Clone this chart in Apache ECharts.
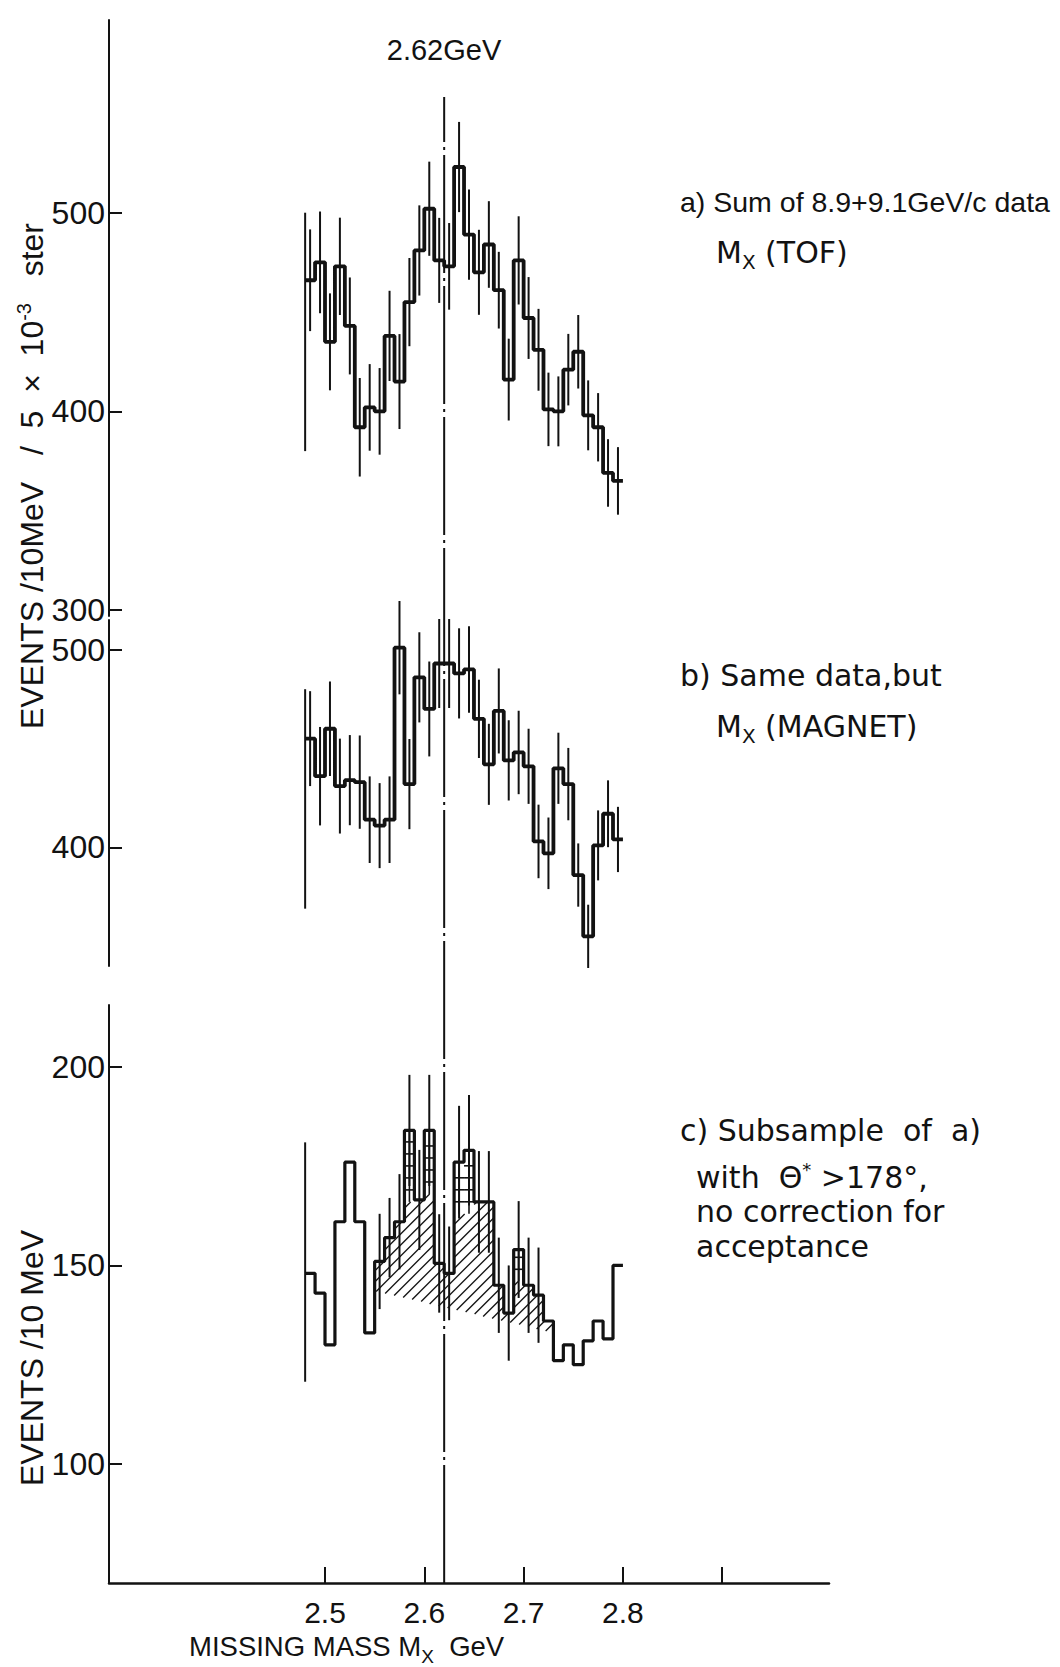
<!DOCTYPE html>
<html>
<head>
<meta charset="utf-8">
<title>Missing mass spectra</title>
<script src="https://cdn.jsdelivr.net/npm/echarts@6/dist/echarts.min.js"></script>
<style>
html, body { margin: 0; padding: 0; background: #ffffff; }
#chart { width: 1060px; height: 1667px; }
</style>
</head>
<body>
<div id="chart"></div>
<script>
// ---------------- data ----------------
const massBins = [2.48, 2.49, 2.50, 2.51, 2.52, 2.53, 2.54, 2.55, 2.56, 2.57, 2.58, 2.59,
                  2.60, 2.61, 2.62, 2.63, 2.64, 2.65, 2.66, 2.67, 2.68, 2.69, 2.70, 2.71,
                  2.72, 2.73, 2.74, 2.75, 2.76, 2.77, 2.78, 2.79];
const binWidth = 0.01;

// a) Sum of 8.9 + 9.1 GeV/c data, Mx (TOF)
const tofEvents = [466, 475, 435, 473, 443, 392, 402, 400, 438, 415, 455, 481, 502, 476, 473, 523,
                   489, 470, 484, 461, 416, 476, 447, 431, 401, 400, 421, 430, 398, 392, 369, 365];
const tofErrors = [25.6, 25.6, 24.4, 24.5, 24.4, 24.8, 21.8, 21.8, 22.7, 23.9, 22.2, 22.7, 23.7, 21.4, 21.8, 22.7,
                   22.7, 21.4, 21.8, 19.3, 20.6, 22.2, 20.6, 20.6, 18.5, 17.6, 18, 18.5, 17.6, 17.2, 17, 17];
const tofEdgeBar = [380, 500];

// b) Same data, Mx (MAGNET)
const magnetEvents = [455, 436, 460, 431, 434, 433, 414, 411, 414, 501, 432, 486, 470, 493, 493, 488,
                      490, 465, 442, 469, 444, 448, 441, 403, 397, 440, 432, 386, 355, 401, 417, 404];
const magnetErrors = [24, 24.9, 23.9, 24, 22.8, 23.6, 21.9, 21.5, 21.9, 23.6, 22.8, 22.8, 24, 22.5, 22.5, 22.8,
                      21.9, 19.8, 20.5, 21.5, 20.3, 21.1, 19, 18.6, 18.1, 18, 18.3, 16, 16, 17.7, 16.9, 16.5];
const magnetEdgeBar = [369, 480];

// c) Subsample of a) with theta* > 178 deg (events / 10 MeV)
const subEvents = [148, 143, 130, 161, 176, 161, 133, 151, 157, 161, 184, 166.5, 184, 150.5, 148, 176,
                   179, 166, 166, 145, 138, 154, 145, 142.5, 136, 126, 130, 125, 131, 136, 131.5, 150];
const subErrors = [null, null, null, null, null, null, null, 12, 10, 12, 14, 12.6, 14, 12.4, 11.8, 14.2,
                   13.9, 12.8, 12.8, 12, 12, 12.2, 12, 12, null, null, null, null, null, null, null, null];
// level below which the peak bins are diagonally hatched (cross-barred above it)
const subLadderFloor = [null, null, null, null, null, null, null, null, null, null, 166, null, 168, null, null, 163,
                        163, null, null, null, null, 146, null, null, null, null, null, null, null, null, null, null];
const subEdgeBar = [120.7, 181];
const backgroundLine = [[2.55, 143.5], [2.73, 133]];

const peakMass = 2.62;
const xTickValues = [2.5, 2.6, 2.7, 2.8, 2.9];
const xLabelValues = [2.5, 2.6, 2.7, 2.8];
const tofTicks = [300, 400, 500];
const magnetTicks = [400, 500];
const subTicks = [100, 150, 200];

// ---------------- helpers ----------------
const FONT = "'Liberation Sans', Arial, sans-serif";
const FONT2 = "'DejaVu Sans', 'Liberation Sans', sans-serif";
const INK = '#121212';
const X_MIN = 2.2825, X_MAX = 3.0075;

function histPoints(values) {
  const pts = [];
  values.forEach((v, i) => {
    pts.push([massBins[i], v]);
    pts.push([massBins[i] + binWidth, v]);
  });
  return pts;
}
function errorBarData(values, errors) {
  const out = [];
  values.forEach((v, i) => {
    if (errors[i] != null) out.push([massBins[i] + binWidth / 2, v - errors[i], v + errors[i]]);
  });
  return out;
}
function renderBar(params, api) {
  const a = api.coord([api.value(0), api.value(1)]);
  const b = api.coord([api.value(0), api.value(2)]);
  return { type: 'line', shape: { x1: a[0], y1: a[1], x2: b[0], y2: b[1] },
           style: { stroke: INK, lineWidth: 2 } };
}
function renderHatch(params, api) {
  const x0 = backgroundLine[0][0], x1 = backgroundLine[1][0];
  const cols = [];
  const children = [];
  massBins.forEach((m, i) => {
    if (m >= x0 - 1e-9 && m < x1 - 1e-9) {
      const level = subLadderFloor[i] != null ? Math.min(subLadderFloor[i], subEvents[i]) : subEvents[i];
      const p = api.coord([m, level]);
      const q = api.coord([m + binWidth, level]);
      cols.push([p[0], q[0], p[1]]);
      if (subLadderFloor[i] != null) {
        const top = api.coord([m, subEvents[i]])[1];
        for (let y = p[1] - 12; y > top + 4; y -= 12) {
          children.push({ type: 'line', shape: { x1: p[0], y1: y, x2: q[0], y2: y },
                          style: { stroke: INK, lineWidth: 1.6 } });
        }
        const mid = (p[0] + q[0]) / 2;
        children.push({ type: 'line', shape: { x1: mid, y1: top, x2: mid, y2: p[1] },
                        style: { stroke: INK, lineWidth: 1.6 } });
      }
    }
  });
  const b0 = api.coord(backgroundLine[0]), b1 = api.coord(backgroundLine[1]);
  const bgY = px => b0[1] + (b1[1] - b0[1]) * (px - b0[0]) / (b1[0] - b0[0]);
  const topY = px => { for (const c of cols) if (px >= c[0] && px < c[1]) return c[2]; return null; };
  let minTop = Infinity;
  cols.forEach(c => { minTop = Math.min(minTop, c[2]); });
  const maxBg = Math.max(b0[1], b1[1]);
  const spacing = 11;
  const seg = r => ({ type: 'line', shape: { x1: r[0], y1: r[1], x2: r[2], y2: r[3] },
                      style: { stroke: INK, lineWidth: 1.3 } });
  for (let c = b0[0] + minTop; c <= b1[0] + maxBg; c += spacing) {
    let run = null;
    for (let px = b0[0]; px <= b1[0]; px += 0.5) {
      const y = c - px, t = topY(px);
      const inside = t != null && y >= t && y <= bgY(px);
      if (inside) { if (!run) run = [px, y, px, y]; run[2] = px; run[3] = y; }
      else if (run) { children.push(seg(run)); run = null; }
    }
    if (run) children.push(seg(run));
  }
  return { type: 'group', children: children };
}

function xAxis(gridIndex, visible) {
  return {
    type: 'value', gridIndex: gridIndex, min: X_MIN, max: X_MAX, show: visible,
    axisLine: { show: true, onZero: false, lineStyle: { color: INK, width: 2.5 } },
    axisTick: { show: true, inside: true, length: 16, customValues: xTickValues, lineStyle: { color: INK, width: 2 } },
    axisLabel: { show: true, customValues: xLabelValues, margin: 14, color: INK, fontSize: 30, fontFamily: FONT,
                 formatter: v => v.toFixed(1) },
    splitLine: { show: false }
  };
}
function yAxis(gridIndex, min, max, ticks, visible) {
  return {
    type: 'value', gridIndex: gridIndex, min: min, max: max, show: visible,
    axisLine: { show: true, lineStyle: { color: INK, width: 2 } },
    axisTick: { show: true, inside: true, length: 13, customValues: ticks, lineStyle: { color: INK, width: 2 } },
    axisLabel: { show: true, customValues: ticks, margin: 4, color: INK, fontSize: 32, fontFamily: FONT },
    splitLine: { show: false }
  };
}
function histSeries(idx, values, width) {
  return { type: 'line', xAxisIndex: idx, yAxisIndex: idx, data: histPoints(values), symbol: 'none',
           lineStyle: { color: INK, width: width }, silent: true, z: 3 };
}
function barSeries(idx, data) {
  return { type: 'custom', xAxisIndex: idx, yAxisIndex: idx, data: data, renderItem: renderBar, silent: true, z: 2 };
}

function label(x, y, text, size, family, extra) {
  return { type: 'text', x: x, y: y,
    style: Object.assign({ fill: INK, font: size + 'px ' + family, fontFamily: family, fontSize: size,
      text: text, align: 'left', textAlign: 'left', verticalAlign: 'middle', textVerticalAlign: 'middle' }, extra || {}) };
}
function subRich(family, size) {
  return { sub: { fontSize: size, fontFamily: family, fill: INK, color: INK, lineHeight: size, verticalAlign: 'bottom' } };
}
function supRich(family, size) {
  return { sup: { fontSize: size, fontFamily: family, fill: INK, color: INK, lineHeight: size, verticalAlign: 'top' } };
}

const chart = echarts.init(document.getElementById('chart'), null, { renderer: 'svg' });
chart.setOption({
  backgroundColor: '#ffffff',
  animation: false,
  grid: [
    { left: 109, top: 20, width: 720, height: 596, outerBoundsMode: 'none' },
    { left: 109, top: 620, width: 720, height: 346, outerBoundsMode: 'none' },
    { left: 109, top: 1005, width: 720, height: 578, outerBoundsMode: 'none' },
    { left: 109, top: 97, width: 720, height: 1486, outerBoundsMode: 'none' }
  ],
  xAxis: [xAxis(0, false), xAxis(1, false), xAxis(2, true), xAxis(3, false)],
  yAxis: [
    yAxis(0, 297, 597, tofTicks, true),
    yAxis(1, 340, 515, magnetTicks, true),
    yAxis(2, 70, 215.6, subTicks, true),
    yAxis(3, 0, 1, [], false)
  ],
  series: [
    histSeries(0, tofEvents, 3.8),
    barSeries(0, errorBarData(tofEvents, tofErrors)),
    barSeries(0, [[massBins[0], tofEdgeBar[0], tofEdgeBar[1]]]),
    histSeries(1, magnetEvents, 3.8),
    barSeries(1, errorBarData(magnetEvents, magnetErrors)),
    barSeries(1, [[massBins[0], magnetEdgeBar[0], magnetEdgeBar[1]]]),
    { type: 'custom', xAxisIndex: 2, yAxisIndex: 2, data: [backgroundLine[0]], renderItem: renderHatch, silent: true, z: 1 },
    histSeries(2, subEvents, 3.2),
    barSeries(2, errorBarData(subEvents, subErrors)),
    barSeries(2, [[massBins[0], subEdgeBar[0], subEdgeBar[1]]]),
    { type: 'line', xAxisIndex: 3, yAxisIndex: 3, data: [[peakMass, 0], [peakMass, 1]], symbol: 'none', silent: true,
      lineStyle: { color: INK, width: 2, type: [118, 5, 3, 5] }, z: 4 }
  ],
  graphic: [
    label(444, 50, '2.62GeV', 29, FONT, { align: 'center', textAlign: 'center' }),
    label(680, 202, 'a) Sum of 8.9+9.1GeV/c data', 28.5, FONT),
    label(716, 252, 'M{sub|X} (TOF)', 30, FONT2, { lineHeight: 40, rich: subRich(FONT2, 20) }),
    label(680, 675, 'b) Same data,but', 30, FONT2),
    label(716, 726, 'M{sub|X} (MAGNET)', 30, FONT2, { lineHeight: 40, rich: subRich(FONT2, 20) }),
    label(680, 1130, 'c) Subsample  of  a)', 30, FONT2),
    label(696, 1177, 'with  Θ{sup|*} >178°,', 30, FONT2, { lineHeight: 34, rich: supRich(FONT2, 18) }),
    label(696, 1211, 'no correction for', 30, FONT2),
    label(696, 1246, 'acceptance', 30, FONT2),
    label(189, 1646, 'MISSING MASS M{sub|X}  GeV', 27.5, FONT, { lineHeight: 40, rich: subRich(FONT, 19) }),
    { type: 'text', x: 32, y: 476, rotation: Math.PI / 2,
      style: { fill: INK, font: '32px ' + FONT, fontFamily: FONT, fontSize: 32,
        text: 'EVENTS /10MeV   /  5  ×  10{sup|-3}   ster',
        align: 'center', textAlign: 'center', verticalAlign: 'middle', textVerticalAlign: 'middle', lineHeight: 36,
        rich: supRich(FONT, 20) } },
    { type: 'text', x: 32, y: 1358, rotation: Math.PI / 2,
      style: { fill: INK, font: '32px ' + FONT, fontFamily: FONT, fontSize: 32, text: 'EVENTS /10 MeV',
        align: 'center', textAlign: 'center', verticalAlign: 'middle', textVerticalAlign: 'middle' } }
  ]
});
</script>
</body>
</html>
